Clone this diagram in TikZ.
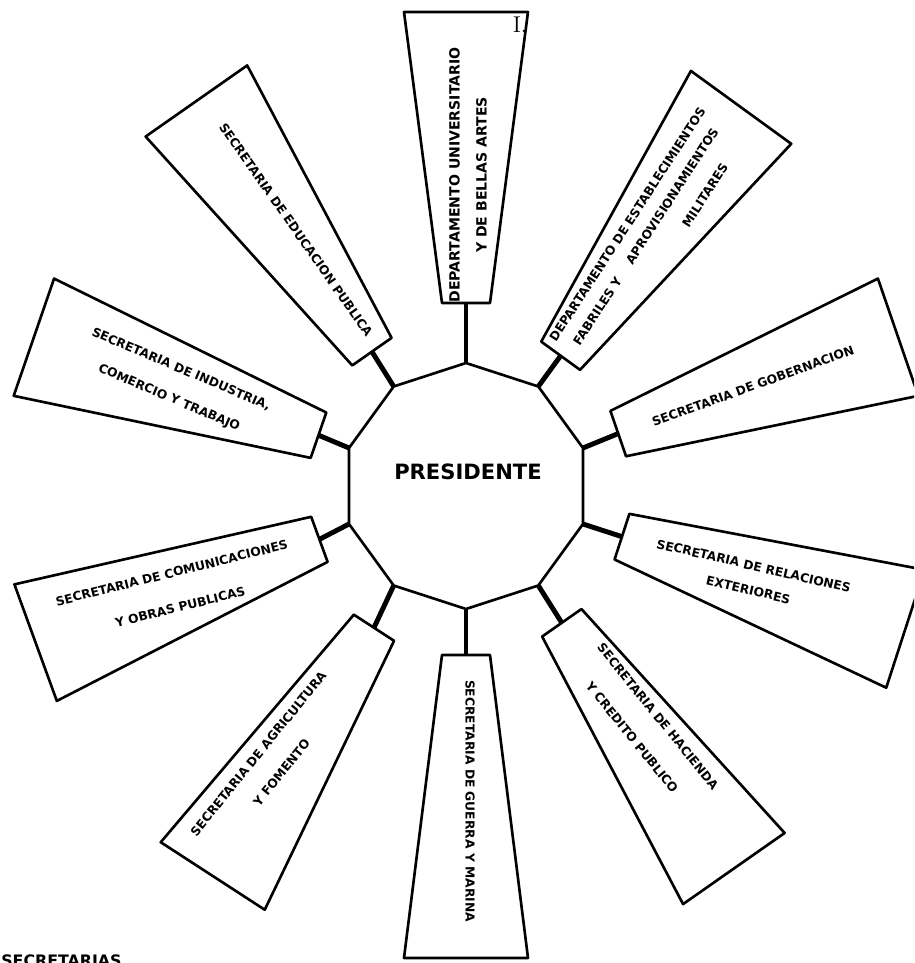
\documentclass[tikz,border=0pt]{standalone}
\usepackage{fontspec}
\usepackage{tikz}
\usetikzlibrary{calc}
\newfontfamily\lettering{DejaVu Sans}

\begin{document}
\begin{tikzpicture}[x=0.02cm, y=0.02cm, line join=round,
  box/.style={line width=1.5pt},
  stem/.style={line width=2.8pt},
  depto/.style={font=\lettering\bfseries\fontsize{7pt}{15pt}\selectfont, align=center, inner sep=0pt}]
  \useasboundingbox (-466,-477) rectangle (448,486);
  \clip (-466,-477) rectangle (448,486);
  % Nodes
  \node[font=\lettering\bfseries\fontsize{12pt}{14pt}\selectfont] (pres) at (2,14) {PRESIDENTE};
  \foreach \a [count=\i] in {90,54,18,-18,-54,-90,-126,-162,162,126}
    \coordinate (v\i) at (\a:123);
  \draw[box] (v1) -- (v2) -- (v3) -- (v4) -- (v5) -- (v6) -- (v7) -- (v8) -- (v9) -- (v10) -- cycle;
  % Boxes and stems
  \foreach \a/\ri/\ro [count=\i] in {90/183/474, 54/161/468, 19/161/457, -18/164/462, -55/167/467,
                                     -90/169/472, -123/169/465, -160/156/458, 161/156/457, 125/164/470} {
    \coordinate (b\i) at (\a:\ri);
    \draw[box] ($(b\i)+({\a+90}:24)$) -- ($(\a:\ro)+({\a+90}:62)$) -- ($(\a:\ro)+({\a-90}:62)$) -- ($(b\i)+({\a-90}:24)$) -- cycle;
    \draw[stem] (v\i) -- (b\i);
  }
  % Labels
  \node[depto, rotate=90, font=\lettering\bfseries\fontsize{8pt}{15.5pt}\selectfont] (bellas) at (2,311) {DEPARTAMENTO UNIVERSITARIO\\Y DE BELLAS ARTES};
  \node[depto, rotate=57, font=\lettering\bfseries\fontsize{7pt}{12.5pt}\selectfont] (fabriles) at (182,248) {DEPARTAMENTO DE ESTABLECIMIENTOS\\FABRILES Y\hspace{1.5em}APROVISIONAMIENTOS\\[3pt]\hspace*{76pt}MILITARES};
  \node[depto, rotate=20] (gob) at (287,100) {SECRETARIA DE GOBERNACION};
  \node[depto, rotate=-13, font=\lettering\bfseries\fontsize{7pt}{14pt}\selectfont] (rel) at (285,-92) {SECRETARIA DE RELACIONES\\EXTERIORES};
  \node[depto, rotate=-51, font=\lettering\bfseries\fontsize{7pt}{19pt}\selectfont] (hac) at (179,-241) {SECRETARIA DE HACIENDA\\Y CREDITO PUBLICO};
  \node[depto, rotate=-90] (gue) at (4,-315) {SECRETARIA DE GUERRA Y MARINA};
  \node[depto, rotate=51, font=\lettering\bfseries\fontsize{7pt}{17pt}\selectfont] (agr) at (-196,-277) {SECRETARIA DE AGRICULTURA\\Y FOMENTO};
  \node[depto, rotate=14, font=\lettering\bfseries\fontsize{7pt}{20pt}\selectfont] (com) at (-290,-104) {SECRETARIA DE COMUNICACIONES\\Y OBRAS PUBLICAS};
  \node[depto, rotate=-23, font=\lettering\bfseries\fontsize{7pt}{17.5pt}\selectfont] (ind) at (-291,102) {SECRETARIA DE INDUSTRIA,\\COMERCIO Y TRABAJO};
  \node[depto, rotate=-55] (edu) at (-170,256) {SECRETARIA DE EDUCACION PUBLICA};
  \node[font=\rmfamily\fontsize{13pt}{15pt}\selectfont] (num) at (54,461) {I.};
  \node[anchor=base west, inner sep=0pt, font=\lettering\bfseries\fontsize{9pt}{11pt}\selectfont] (pie) at (-465,-480) {SECRETARIAS};
\end{tikzpicture}
\end{document}
